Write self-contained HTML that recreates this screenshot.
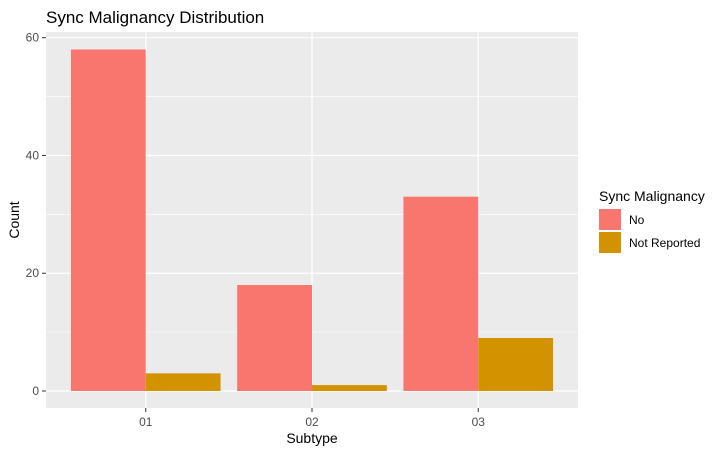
<!DOCTYPE html>
<html><head><meta charset="utf-8"><style>
body{margin:0;background:#fff;font-family:"Liberation Sans",Arial,sans-serif;}
</style></head><body>
<svg id="c" width="721" height="453" xmlns="http://www.w3.org/2000/svg" font-family="Liberation Sans, Arial, sans-serif">
<text x="46" y="23" font-size="17" fill="#000">Sync Malignancy Distribution</text>
<rect x="46" y="32" width="532" height="376" fill="#ebebeb"/>
<g id="grid"></g><g id="bars"></g><g id="axes"></g>
<text x="312" y="443" font-size="14" text-anchor="middle" fill="#000">Subtype</text>
<text transform="translate(19,220) rotate(-90)" font-size="14" text-anchor="middle" fill="#000">Count</text>
<g>
<text x="599" y="201" font-size="14" fill="#000">Sync Malignancy</text>
<rect x="599" y="209" width="22" height="21" fill="#f8766d"/>
<text x="629" y="224" font-size="12" fill="#000">No</text>
<rect x="599" y="232" width="22" height="21" fill="#d39200"/>
<text x="629" y="247" font-size="12" fill="#000">Not Reported</text>
</g>
</svg>
<script>
const categories=["01","02","03"];
const seriesNo=[58,18,33];
const seriesNotReported=[3,1,9];
const yTicks=[0,20,40,60];
const NS="http://www.w3.org/2000/svg";
const svg=document.getElementById('c');
const X0=46,X1=578,Y0=408,Y1=32;
const step=(X1-X0)/(categories.length+0.2);
function xs(i){return X0+step*(0.6+i);}
function ys(v){return 391-v*(391-37.7)/60;}
function mk(t,a,p){const e=document.createElementNS(NS,t);for(const k in a)e.setAttribute(k,a[k]);p.appendChild(e);return e;}
const grid=document.getElementById('grid'),bars=document.getElementById('bars'),axes=document.getElementById('axes');
for(let i=0;i<yTicks.length-1;i++){const v=(yTicks[i]+yTicks[i+1])/2;
 const l=mk('line',{x1:X0,x2:X1,y1:ys(v),y2:ys(v),stroke:'#fff','stroke-width':0.6},grid);
 
 }
yTicks.forEach(v=>{const l=mk('line',{x1:X0,x2:X1,y1:ys(v),y2:ys(v),stroke:'#fff','stroke-width':1.2},grid);
 
 
 const t=mk('line',{x1:X0-4,x2:X0,y1:ys(v),y2:ys(v),stroke:'#333','stroke-width':1},axes);
 
 
 const tx=mk('text',{x:X0-7,y:ys(v)+4,'font-size':12,'text-anchor':'end',fill:'#4d4d4d'},axes);tx.textContent=v;
 
 });
categories.forEach((c,i)=>{const x=xs(i);
 const l=mk('line',{x1:x,x2:x,y1:Y1,y2:Y0,stroke:'#fff','stroke-width':1.2},grid);
 
 
 const t=mk('line',{x1:x,x2:x,y1:Y0,y2:Y0+4,stroke:'#333','stroke-width':1},axes);
 
 
 const tx=mk('text',{x:x,y:Y0+18,'font-size':12,'text-anchor':'middle',fill:'#4d4d4d'},axes);tx.textContent=c;
 
 
 const w=step*0.45;
 const b1=mk('rect',{x:x-w,y:ys(seriesNo[i]),width:w,height:ys(0)-ys(seriesNo[i]),fill:'#f8766d'},bars);
 
 
 const b2=mk('rect',{x:x,y:ys(seriesNotReported[i]),width:w,height:ys(0)-ys(seriesNotReported[i]),fill:'#d39200'},bars);
 
 });
</script>
</body></html>
